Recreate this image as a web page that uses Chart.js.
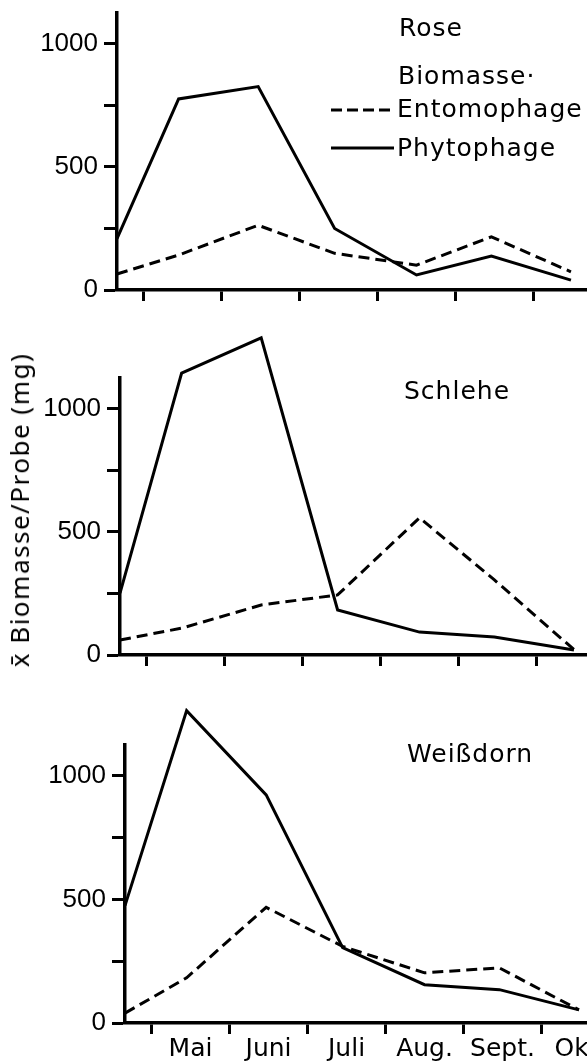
<!DOCTYPE html>
<html>
<head>
<meta charset="utf-8">
<script src="https://cdn.jsdelivr.net/npm/chart.js@4.4.0/dist/chart.umd.min.js"></script>
<style>
  html, body { margin: 0; padding: 0; background: #fff; }
  body { width: 587px; height: 1064px; overflow: hidden; position: relative; }
  canvas { position: absolute; }
  .lbl {
    position: absolute; font-family: "DejaVu Sans"; font-size: 25px;
    letter-spacing: 1px; line-height: 30px; white-space: nowrap; color: #000;
  }
  #ytitle {
    position: absolute; left: 19px; top: 510px;
    transform: translate(-50%, -50%) rotate(-90deg);
    font-family: "Noto Sans"; font-size: 26px; letter-spacing: 1.5px;
    line-height: 26px; white-space: nowrap; color: #000;
  }
  #keys { position: absolute; left: 0; top: 0; }
</style>
</head>
<body>
<canvas id="rose" width="624" height="330" style="left:0px;top:0px"></canvas>
<canvas id="schlehe" width="624" height="370" style="left:3px;top:325px"></canvas>
<canvas id="weissdorn" width="624" height="364" style="left:8px;top:700px"></canvas>

<div class="lbl" style="left:399px;top:13px">Rose</div>
<div class="lbl" style="left:398px;top:61px">Biomasse·</div>
<div class="lbl" style="left:397px;top:94px">Entomophage</div>
<div class="lbl" style="left:397px;top:133px">Phytophage</div>
<svg id="keys" width="587" height="170">
  <line x1="331" y1="110" x2="394" y2="110" stroke="#000" stroke-width="3" stroke-dasharray="11 5"/>
  <line x1="331" y1="148" x2="394" y2="148" stroke="#000" stroke-width="3"/>
</svg>
<div class="lbl" style="left:404px;top:376px">Schlehe</div>
<div class="lbl" style="left:407px;top:739px">Weißdorn</div>
<div id="ytitle">x̄ Biomasse/Probe (mg)</div>

<script>
// Months on the time axis (month number of the first day of each month)
const monthNames = ['Mai', 'Juni', 'Juli', 'Aug.', 'Sept.', 'Okt.'];
const monthStarts = [5, 6, 7, 8, 9, 10, 11];

// Sampling dates, as fractional month numbers
const sampleTimes = [4.66, 5.45, 6.47, 7.45, 8.5, 9.46, 10.48];

// Biomass axis
const yTickValues = [0, 250, 500, 750, 1000];
const yTickLabels = ['0', '', '500', '', '1000'];

// Mean biomass per sample (mg)
const roseEntomophage = [65, 142, 263, 149, 101, 216, 74];
const rosePhytophage = [209, 776, 826, 250, 61, 138, 40];
const schleheEntomophage = [61, 109, 203, 244, 557, 305, 22];
const schlehePhytophage = [251, 1145, 1288, 183, 93, 73, 20];
const weissdornEntomophage = [40, 183, 468, 310, 203, 223, 53];
const weissdornPhytophage = [475, 1264, 923, 305, 155, 135, 53];

// Tick positions: month boundaries carry tick marks, month middles carry names
const xTickValues = [];
monthStarts.forEach((m, i) => {
  xTickValues.push(m);
  if (i < monthNames.length) xTickValues.push(m + 0.5);
});
const isBoundary = v => monthStarts.includes(v);
const monthLabel = v => {
  const i = monthStarts.indexOf(v - 0.5);
  return i >= 0 && i < monthNames.length ? monthNames[i] : '';
};

function makePanel(id, ento, phyto, showMonths, padTop, xHeight) {
  const toPoints = vals => vals.map((v, i) => ({ x: sampleTimes[i], y: v }));
  return new Chart(document.getElementById(id), {
    type: 'line',
    data: {
      datasets: [
        { label: 'Entomophage', data: toPoints(ento), borderColor: '#000', borderWidth: 3,
          borderDash: [11, 6], pointRadius: 0, fill: false, tension: 0, clip: false },
        { label: 'Phytophage', data: toPoints(phyto), borderColor: '#000', borderWidth: 3,
          pointRadius: 0, fill: false, tension: 0, clip: false }
      ]
    },
    options: {
      responsive: false,
      animation: false,
      events: [],
      layout: { padding: { top: padTop, left: 0, right: 0, bottom: 0 } },
      plugins: { legend: { display: false }, tooltip: { enabled: false } },
      scales: {
        x: {
          type: 'linear', min: 4.66, max: 11.16,
          afterBuildTicks: s => { s.ticks = xTickValues.map(v => ({ value: v })); },
          afterFit: s => { s.height = xHeight; s.paddingLeft = 0; s.paddingRight = 0; },
          border: { color: '#000', width: 3.5 },
          grid: {
            drawOnChartArea: false, drawTicks: true, tickLength: 11, tickWidth: 3,
            tickColor: ctx => (ctx.tick && isBoundary(ctx.tick.value)) ? '#000' : 'rgba(0,0,0,0)'
          },
          ticks: {
            autoSkip: false, maxRotation: 0, minRotation: 0, padding: 3, color: '#000',
            font: { family: 'DejaVu Sans', size: 25, lineHeight: 1 },
            callback: v => showMonths ? monthLabel(v) : ''
          }
        },
        y: {
          type: 'linear', min: 0, max: 1125,
          afterBuildTicks: s => { s.ticks = yTickValues.map(v => ({ value: v })); },
          afterFit: s => { s.width = 117; s.paddingTop = 0; s.paddingBottom = 0; },
          border: { color: '#000', width: 3.5 },
          grid: { drawOnChartArea: false, drawTicks: true, tickLength: 13, tickWidth: 3, tickColor: '#000' },
          ticks: {
            padding: 6, color: '#000',
            font: { family: 'Liberation Sans', size: 26 },
            callback: v => yTickLabels[yTickValues.indexOf(v)]
          }
        }
      }
    }
  });
}

makePanel('rose', roseEntomophage, rosePhytophage, false, 13, 40);
makePanel('schlehe', schleheEntomophage, schlehePhytophage, false, 53, 40);
makePanel('weissdorn', weissdornEntomophage, weissdornPhytophage, true, 45, 41);
</script>
</body>
</html>
